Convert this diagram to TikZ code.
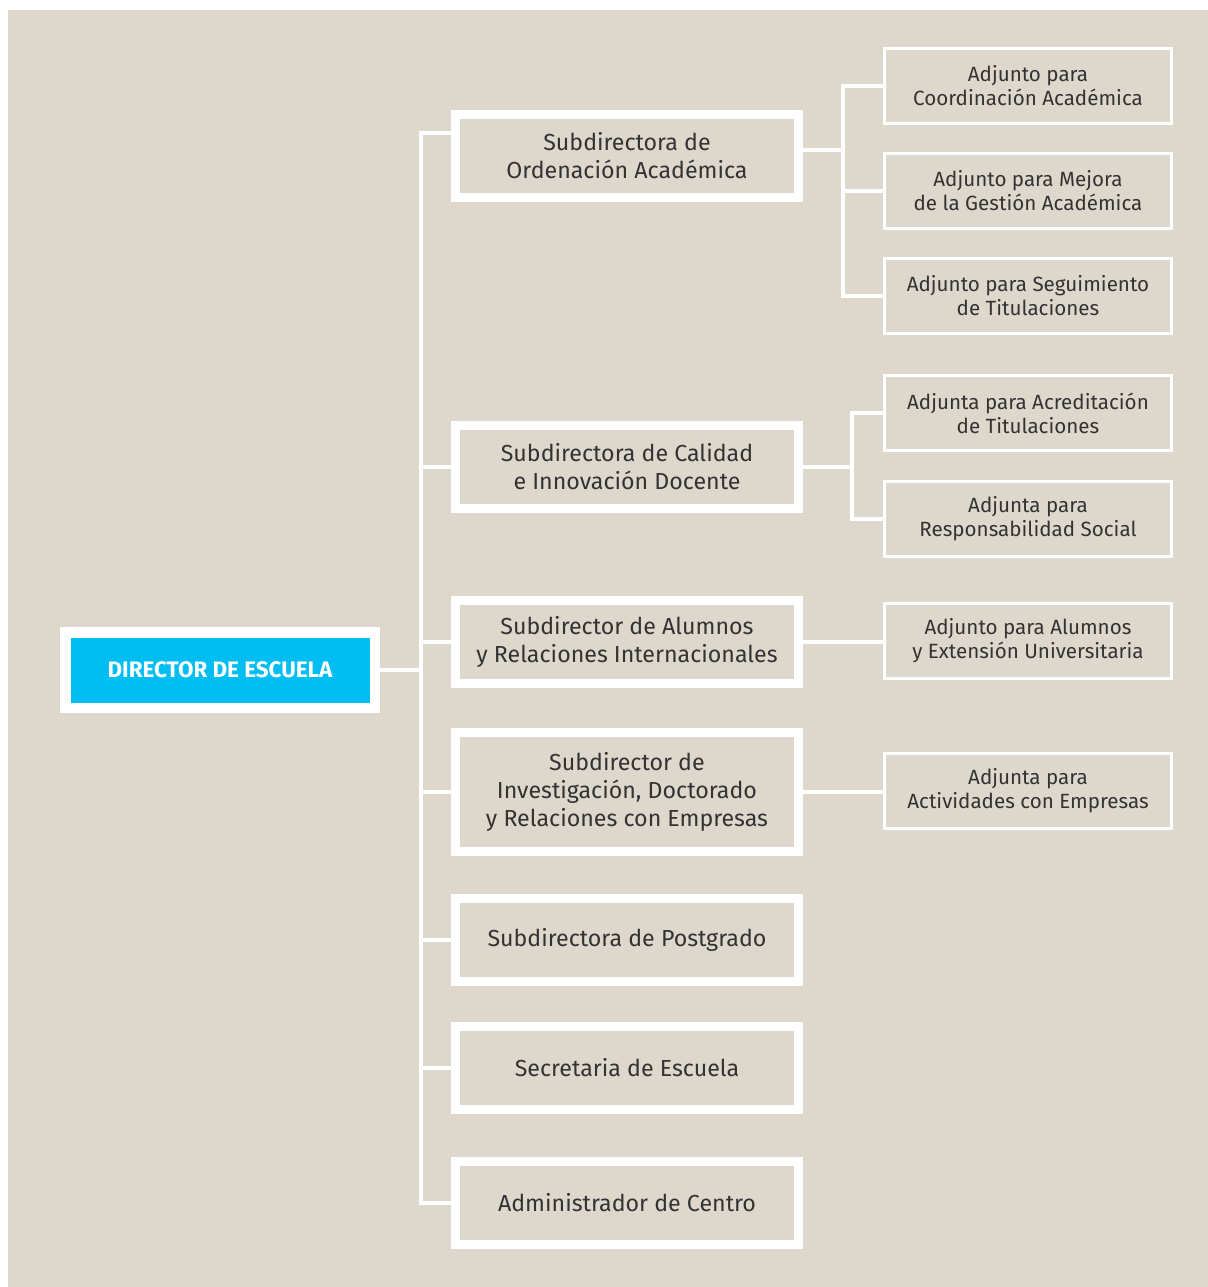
\documentclass[tikz,border=0pt]{standalone}
\usepackage{fontspec}
\setmainfont{Fira Sans}
\definecolor{bgc}{HTML}{DDD7CC}
\definecolor{cyanbox}{HTML}{00BEF2}
\definecolor{txt}{HTML}{333333}
\begin{document}
\begin{tikzpicture}[x=0.5pt,y=-0.5pt,
  midbox/.style={draw=white,line width=4.5pt,minimum width=171.5pt,minimum height=41.5pt,align=center,text=txt,font=\fontsize{11.6}{14}\selectfont,inner sep=0pt},
  adjbox/.style={draw=white,line width=1.5pt,minimum width=143.5pt,minimum height=37.5pt,align=center,text=txt,font=\fontsize{10.3}{12}\selectfont,inner sep=0pt},
  dirbox/.style={fill=cyanbox,draw=white,line width=5.25pt,minimum width=154.75pt,minimum height=37.75pt,text=white,font=\fontsize{11.2}{13}\selectfont\bfseries,inner sep=0pt},
  conn/.style={draw=white,line width=2pt}]
\useasboundingbox (0,0) rectangle (1208,1287);
\fill[white] (0,0) rectangle (1208,1287);
\fill[bgc] (8,10) rectangle (1208,1287);

\node[dirbox] (dir) at (220,670) {DIRECTOR DE ESCUELA};

\node[midbox] (b1) at (627,156) {Subdirectora de\\Ordenación Académica};
\node[midbox] (b2) at (627,467) {Subdirectora de Calidad\\e Innovación Docente};
\node[midbox] (b3) at (627,642) {Subdirector de Alumnos\\y Relaciones Internacionales};
\node[midbox,minimum height=59.5pt] (b4) at (627,792) {Subdirector de\\Investigación, Doctorado\\y Relaciones con Empresas};
\node[midbox] (b5) at (627,940) {Subdirectora de Postgrado};
\node[midbox] (b6) at (627,1068) {Secretaria de Escuela};
\node[midbox] (b7) at (627,1203) {Administrador de Centro};

\node[adjbox] (a1) at (1028,86) {Adjunto para\\Coordinación Académica};
\node[adjbox] (a2) at (1028,190.5) {Adjunto para Mejora\\de la Gestión Académica};
\node[adjbox] (a3) at (1028,296) {Adjunto para Seguimiento\\de Titulaciones};
\node[adjbox] (a4) at (1028,413) {Adjunta para Acreditación\\de Titulaciones};
\node[adjbox] (a5) at (1028,518.5) {Adjunta para\\Responsabilidad Social};
\node[adjbox] (a6) at (1028,640.5) {Adjunto para Alumnos\\y Extensión Universitaria};
\node[adjbox] (a7) at (1028,791) {Adjunta para\\Actividades con Empresas};

% trunk
\coordinate (ttop) at (421,133);
\coordinate (tbot) at (421,1203);
\coordinate (tdir) at (421,670);
\draw[conn] (dir.east) -- (tdir);
\draw[conn,line cap=rect] (ttop) -- (tbot);
\draw[conn] (ttop) -- (ttop -| b1.west);
\draw[conn] (b2.west -| tdir) -- (b2.west);
\draw[conn] (b3.west -| tdir) -- (b3.west);
\draw[conn] (b4.west -| tdir) -- (b4.west);
\draw[conn] (b5.west -| tdir) -- (b5.west);
\draw[conn] (b6.west -| tdir) -- (b6.west);
\draw[conn] (b7.west -| tdir) -- (b7.west);

% right side of b1
\coordinate (r1) at (843,150);
\draw[conn] (r1 -| b1.east) -- (r1);
\draw[conn,line cap=rect] (a1.west -| r1) -- (a3.west -| r1);
\draw[conn] (a1.west -| r1) -- (a1.west);
\draw[conn] (a2.west -| r1) -- (a2.west);
\draw[conn] (a3.west -| r1) -- (a3.west);

% right side of b2
\coordinate (r2) at (852,467);
\draw[conn] (b2.east) -- (r2);
\draw[conn,line cap=rect] (a4.west -| r2) -- (a5.west -| r2);
\draw[conn] (a4.west -| r2) -- (a4.west);
\draw[conn] (a5.west -| r2) -- (a5.west);

\draw[conn] (b3.east) -- (b3.east -| a6.west);
\draw[conn] (b4.east) -- (b4.east -| a7.west);
\end{tikzpicture}
\end{document}
